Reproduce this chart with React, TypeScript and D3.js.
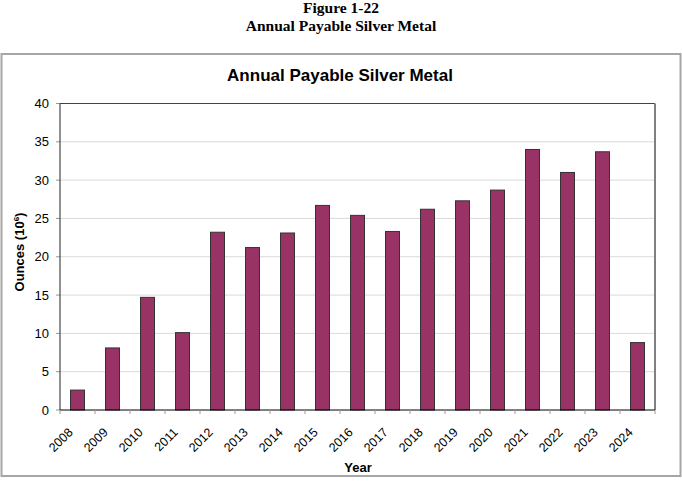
import React from "react";
import * as d3 from "d3";

const years = ["2008","2009","2010","2011","2012","2013","2014","2015","2016","2017","2018","2019","2020","2021","2022","2023","2024"];
const silver = [2.6, 8.1, 14.7, 10.1, 23.2, 21.2, 23.1, 26.7, 25.4, 23.3, 26.2, 27.3, 28.7, 34.0, 31.0, 33.7, 8.8];
const yTicks = [0, 5, 10, 15, 20, 25, 30, 35, 40];

const W = 682, H = 481;
const plot = { left: 60, right: 655, top: 103.5, bottom: 410 };

export default function App() {
  const x = d3.scaleBand<string>().domain(years).range([plot.left, plot.right]).paddingInner(0.6).paddingOuter(0.3);
  const xb = d3.scaleBand<string>().domain(years).range([plot.left, plot.right]);
  const y = d3.scaleLinear().domain([0, 40]).range([plot.bottom, plot.top]);
  const arial = "Arial, 'Liberation Sans', sans-serif";
  const times = "'Times New Roman', 'Liberation Serif', serif";
  return (
    <svg width={W} height={H} style={{ position: "absolute", left: 0, top: 0, background: "#fff" }}>
      <text x={341} y={13} textAnchor="middle" fontFamily={times} fontWeight="bold" fontSize={15.5}>Figure 1-22</text>
      <text x={341} y={31} textAnchor="middle" fontFamily={times} fontWeight="bold" fontSize={15.5}>Annual Payable Silver Metal</text>
      <rect x={1.5} y={54} width={679} height={422} fill="#fff" stroke="#a6a6a6" strokeWidth={2} />
      <text x={340} y={81} textAnchor="middle" fontFamily={arial} fontWeight="bold" fontSize={17}>Annual Payable Silver Metal</text>
      {yTicks.map(t => (
        <g key={t}>
          {t > 0 && t < 40 && <line x1={plot.left} x2={plot.right} y1={y(t)} y2={y(t)} stroke="#d9d9d9" strokeWidth={1} />}
          <line x1={plot.left - 4} x2={plot.left} y1={y(t)} y2={y(t)} stroke="#999" />
          <text x={49} y={y(t)} dy="0.35em" textAnchor="end" fontFamily={arial} fontSize={13}>{t}</text>
        </g>
      ))}
      <line x1={plot.left} x2={plot.right} y1={plot.top} y2={plot.top} stroke="#444" strokeWidth={1.2} />
      <line x1={plot.right} x2={plot.right} y1={plot.top} y2={plot.bottom} stroke="#808080" strokeWidth={2} />
      {years.map((yr, i) => (
        <rect key={yr} x={x(yr)} y={y(silver[i])} width={x.bandwidth()} height={plot.bottom - y(silver[i])}
          fill="#993366" stroke="#333" strokeWidth={1} />
      ))}
      <line x1={plot.left} x2={plot.left} y1={plot.top} y2={plot.bottom} stroke="#222" strokeWidth={1} />
      <line x1={plot.left} x2={plot.right} y1={plot.bottom} y2={plot.bottom} stroke="#000" strokeWidth={1} />
      {years.map(yr => (
        <line key={"t" + yr} x1={xb(yr)} x2={xb(yr)} y1={plot.bottom} y2={plot.bottom + 4} stroke="#999" />
      ))}
      <line x1={plot.right} x2={plot.right} y1={plot.bottom} y2={plot.bottom + 4} stroke="#999" />
      {years.map(yr => {
        const cx = (xb(yr) as number) + xb.bandwidth() / 2;
        return (
          <text key={"l" + yr} transform={`translate(${cx - 7},${430}) rotate(-45)`} textAnchor="end" dy="0.35em"
            fontFamily={arial} fontSize={12.5}>{yr}</text>
        );
      })}
      <text x={358} y={472} textAnchor="middle" fontFamily={arial} fontWeight="bold" fontSize={13}>Year</text>
      <text transform={`translate(24,${252}) rotate(-90)`} textAnchor="middle" fontFamily={arial} fontWeight="bold" fontSize={13}>
        Ounces (10<tspan dy="-5" fontSize={8}>6</tspan><tspan dy="5">)</tspan>
      </text>
    </svg>
  );
}
